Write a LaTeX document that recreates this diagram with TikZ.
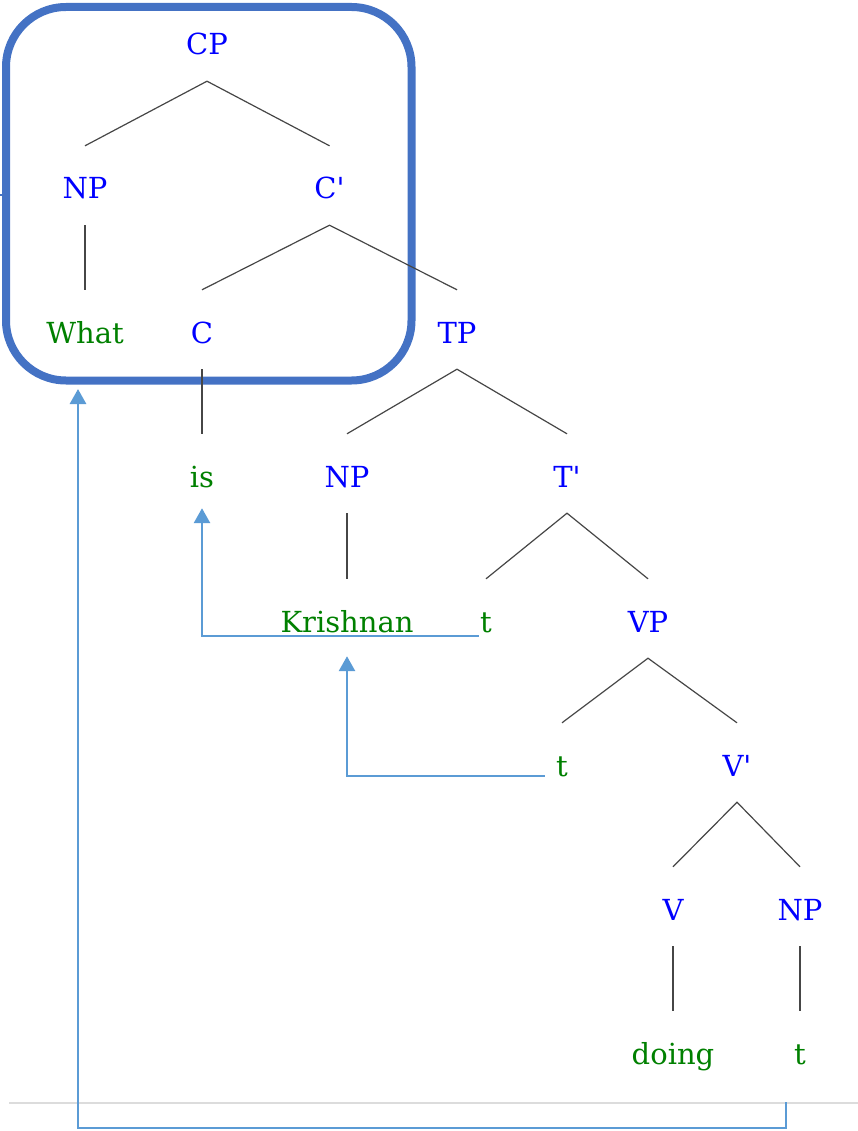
\documentclass[tikz,border=0pt]{standalone}
\usepackage{fontspec}
\setmainfont{DejaVu Serif}
\usetikzlibrary{arrows.meta,calc}
\definecolor{catblue}{RGB}{0,0,255}
\definecolor{wordgreen}{RGB}{0,128,0}
\definecolor{boxblue}{RGB}{68,114,196}
\definecolor{arrowblue}{RGB}{91,155,213}
\definecolor{edgegray}{RGB}{70,70,70}
\definecolor{rulegray}{RGB}{220,220,220}
\begin{document}
\begin{tikzpicture}[x=1pt,y=-1pt,
  lab/.style={anchor=base,inner sep=0pt,text height=53pt,text depth=26pt,
    font=\fontsize{29pt}{34pt}\selectfont},
  cat/.style={lab,text=catblue},
  word/.style={lab,text=wordgreen},
  edge/.style={draw=edgegray,line width=1.2pt},
  mv/.style={draw=arrowblue,line width=2.8pt,-{Triangle[width=16pt,length=15pt]}},
  cpbox/.style={draw=boxblue,line width=8pt,rounded corners=60pt,inner sep=0pt}]
\useasboundingbox (0,0) rectangle (858,1131);
% separator rule
\coordinate (ruleL) at (9,1103);
\coordinate (ruleR) at (858,1103);
\draw[rulegray,line width=1.2pt] (ruleL) -- (ruleR);
% box
\node[cpbox,minimum width=405.5pt,minimum height=373.5pt] (box) at (208.75,193.75) {};
\coordinate (stub) at (0,195);
\draw[boxblue,line width=2pt] (stub) -- (stub -| box.west);
% nodes
\node[cat] (cp) at (207,55) {CP};
\node[cat] (np1) at (85,199) {NP};
\node[cat] (cbar) at (329.5,199) {C\textquotesingle};
\node[word] (what) at (85,343) {What};
\node[cat] (c) at (202,343) {C};
\node[cat] (tp) at (457,343) {TP};
\node[word] (is) at (202,487) {is};
\node[cat] (np2) at (347,487) {NP};
\node[cat] (tbar) at (567,487) {T\textquotesingle};
\node[word] (kr) at (347,632) {Krishnan};
\node[word] (t1) at (486,632) {t};
\node[cat] (vp) at (648,632) {VP};
\node[word] (t2) at (562,776) {t};
\node[cat] (vbar) at (737,776) {V\textquotesingle};
\node[cat] (v) at (673,920) {V};
\node[cat] (np3) at (800,920) {NP};
\node[word] (doing) at (673,1064) {doing};
\node[word] (t3) at (800,1064) {t};
% tree edges
\draw[edge] (np1.north) -- (cp.south) -- (cbar.north);
\draw[edge] (np1.south) -- (what.north);
\draw[edge] (c.north) -- (cbar.south) -- (tp.north);
\draw[edge] (c.south) -- (is.north);
\draw[edge] (np2.north) -- (tp.south) -- (tbar.north);
\draw[edge] (np2.south) -- (kr.north);
\draw[edge] (t1.north) -- (tbar.south) -- (vp.north);
\draw[edge] (t2.north) -- (vp.south) -- (vbar.north);
\draw[edge] (v.north) -- (vbar.south) -- (np3.north);
\draw[edge] (v.south) -- (doing.north);
\draw[edge] (np3.south) -- (t3.north);
% movement arrows
\coordinate (m1s) at ($(t1.base west)+(-1,4)$);
\coordinate (m1e) at ($(is.south)+(0,-5)$);
\draw[mv] (m1s) -| (m1e);
\coordinate (m2s) at ($(t2.base west)+(-11,0)$);
\coordinate (m2e) at ($(kr.south)+(0,-2)$);
\draw[mv] (m2s) -| (m2e);
\coordinate (m3s) at ($(t3.base)+(-14,38)$);
\coordinate (m3c) at ($(t3.base)+(-14,64)$);
\coordinate (wx) at ($(what.base)+(-7,0)$);
\coordinate (boxout) at ($(box.south)+(0,4.5)$);
\draw[mv] (m3s) -- (m3c) -| (wx |- boxout);
\end{tikzpicture}
\end{document}
